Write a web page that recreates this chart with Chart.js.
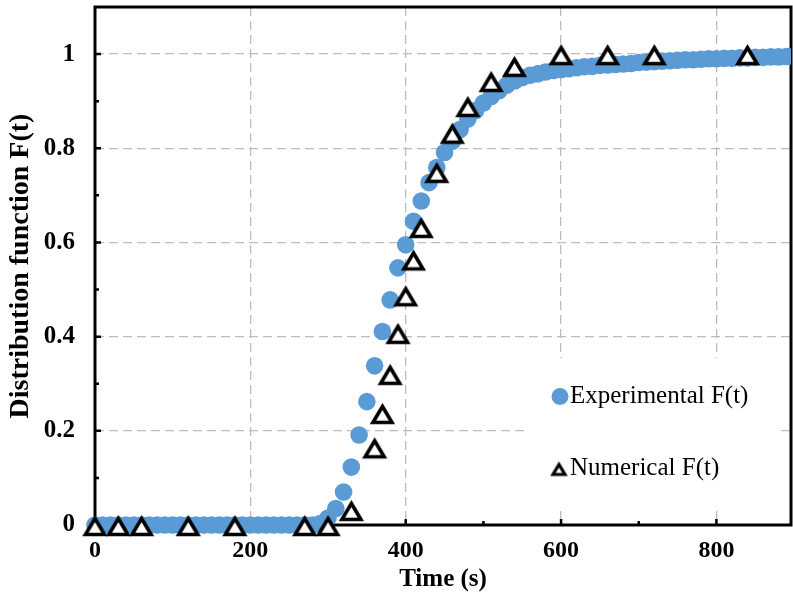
<!DOCTYPE html>
<html><head><meta charset="utf-8">
<script src="https://cdn.jsdelivr.net/npm/chart.js@4/dist/chart.umd.min.js"></script>
<style>html,body{margin:0;padding:0;background:#fff;} canvas{display:block;}</style>
</head><body>
<canvas id="c" width="793" height="595"></canvas>
<script>
// ---- data ----
const expTime = [0,10,20,30,40,50,60,70,80,90,100,110,120,130,140,150,160,170,180,190,200,210,220,230,240,250,260,270,280,290,
  300,310,320,330,340,350,360,370,380,390,400,410,420,430,440,450,460,470,480,490,500,510,520,530,540,550,560,570,580,590,
  600,610,620,630,640,650,660,670,680,690,700,710,720,730,740,750,760,770,780,790,800,810,820,830,840,850,860,870,880,890,900];
const expF = [0,0,0,0,0,0,0,0,0,0,0,0,0,0,0,0,0,0,0,0,0,0,0,0,0,0,0,0,0,0.003,
  0.015,0.035,0.070,0.123,0.191,0.262,0.338,0.411,0.478,0.546,0.595,0.645,0.688,0.727,0.759,0.791,0.815,0.840,0.862,0.880,
  0.896,0.910,0.922,0.934,0.943,0.950,0.955,0.958,0.962,0.965,
  0.967,0.969,0.971,0.973,0.974,0.976,0.977,0.978,0.979,0.980,0.982,0.983,0.984,0.985,0.986,0.987,0.988,0.988,0.989,0.990,
  0.990,0.991,0.991,0.992,0.992,0.993,0.993,0.994,0.994,0.995,0.995];
const numTime = [0,30,60,120,180,270,300,330,360,370,380,390,400,410,420,440,460,480,510,540,600,660,720,840];
const numF = [0,0,0,0,0,0,0,0.032,0.165,0.238,0.321,0.408,0.488,0.564,0.633,0.750,0.833,0.890,0.943,0.975,1,1,1,1];
const seriesNames = ['Experimental F(t)', 'Numerical F(t)'];
const xTitle = 'Time (s)';
const yTitle = 'Distribution function F(t)';
const xMinorTicks = [100,300,500,700];
const xMajorTicks = [200,400,600,800];
const yMinorTicks = [0.1,0.3,0.5,0.7,0.9];
const yMajorTicks = [0.2,0.4,0.6,0.8,1];

const BLUE = '#5B9BD5';
const SERIF = '"Liberation Serif", "Times New Roman", serif';

function makeTri(w, h, lw) {
  const c = document.createElement('canvas');
  const pad = lw + 3;
  c.width = Math.ceil(w + pad * 2); c.height = Math.ceil(h + pad * 2);
  const g = c.getContext('2d');
  g.lineWidth = lw; g.strokeStyle = '#000'; g.fillStyle = '#fff'; g.lineJoin = 'miter';
  const cx = c.width / 2, cy = c.height / 2 + 1.5;
  g.beginPath();
  g.moveTo(cx, cy - h / 2); g.lineTo(cx + w / 2, cy + h / 2); g.lineTo(cx - w / 2, cy + h / 2);
  g.closePath(); g.fill(); g.stroke();
  return c;
}
const triBig = makeTri(19, 16, 3.6);
const triSmall = makeTri(12, 10, 3.2);

const framePlugin = {
  id: 'frame',
  beforeDatasetsDraw(chart) {
    const {ctx, chartArea: a, scales: {x, y}} = chart;
    ctx.save();
    // legend background
    ctx.fillStyle = '#fff';
    ctx.fillRect(528, 358, 248, 150);
    // frame
    ctx.strokeStyle = '#000';
    ctx.lineWidth = 3;
    ctx.strokeRect(a.left, a.top, a.right - a.left, a.bottom - a.top);
    // inward tick marks
    ctx.lineWidth = 2.5;
    ctx.beginPath();
    xMajorTicks.forEach(v => { const px = x.getPixelForValue(v); ctx.moveTo(px, a.bottom); ctx.lineTo(px, a.bottom - 6); });
    xMinorTicks.forEach(v => { const px = x.getPixelForValue(v); ctx.moveTo(px, a.bottom); ctx.lineTo(px, a.bottom - 4); });
    yMajorTicks.forEach(v => { const py = y.getPixelForValue(v); ctx.moveTo(a.left, py); ctx.lineTo(a.left + 6, py); });
    yMinorTicks.forEach(v => { const py = y.getPixelForValue(v); ctx.moveTo(a.left, py); ctx.lineTo(a.left + 4, py); });
    ctx.stroke();
    // legend
    ctx.fillStyle = BLUE;
    ctx.beginPath(); ctx.arc(560, 396.5, 8.5, 0, Math.PI * 2); ctx.fill();
    ctx.drawImage(triSmall, 559 - triSmall.width / 2, 468 - triSmall.height / 2);
    ctx.fillStyle = '#000';
    ctx.font = '25px ' + SERIF;
    ctx.textBaseline = 'middle';
    ctx.textAlign = 'left';
    ctx.fillText(seriesNames[0], 570, 396);
    ctx.fillText(seriesNames[1], 570, 468);
    ctx.restore();
  }
};

function zeroPad(s) { s.paddingTop = 0; s.paddingBottom = 0; s.paddingLeft = 0; s.paddingRight = 0; }

new Chart(document.getElementById('c'), {
  type: 'scatter',
  data: {
    datasets: [
      {
        label: seriesNames[1],
        data: numTime.map((t, i) => ({x: t, y: numF[i]})),
        pointStyle: triBig,
        pointRadius: 11,
        order: 0,
        clip: {left: 15, top: 15, right: 0, bottom: 15}
      },
      {
        label: seriesNames[0],
        data: expTime.map((t, i) => ({x: t, y: expF[i]})),
        backgroundColor: BLUE,
        borderWidth: 0,
        pointRadius: 8.8,
        order: 1,
        clip: {left: 15, top: 15, right: 0, bottom: 15}
      }
    ]
  },
  options: {
    responsive: false,
    devicePixelRatio: 1,
    animation: false,
    layout: {autoPadding: false, padding: {top: 7, right: 2, left: 0, bottom: 0}},
    plugins: {legend: {display: false}, tooltip: {enabled: false}},
    scales: {
      x: {
        type: 'linear', min: 0, max: 896,
        afterFit: s => { s.height = 70; zeroPad(s); },
        ticks: {stepSize: 200, includeBounds: false, color: '#000', padding: 11,
          font: {family: SERIF, size: 24, weight: 'bold'}, maxRotation: 0},
        grid: {color: '#bdbdbd', lineWidth: 1.3, drawTicks: false},
        border: {display: false, dash: [9, 5]},
        title: {display: true, text: xTitle, color: '#000', padding: {top: 0, bottom: 0},
          font: {family: SERIF, size: 25, weight: 'bold'}}
      },
      y: {
        type: 'linear', min: 0, max: 1.1,
        afterFit: s => { s.width = 95; zeroPad(s); },
        ticks: {stepSize: 0.2, includeBounds: false, color: '#000', padding: 20,
          font: {family: SERIF, size: 25, weight: 'bold'},
          callback: v => String(Number(v.toFixed(2)))},
        grid: {color: '#bdbdbd', lineWidth: 1.3, drawTicks: false},
        border: {display: false, dash: [9, 5]},
        title: {display: true, text: yTitle, color: '#000', padding: {top: 4, bottom: 0},
          font: {family: SERIF, size: 28, weight: 'bold'}}
      }
    }
  },
  plugins: [framePlugin]
});
</script>
</body></html>
